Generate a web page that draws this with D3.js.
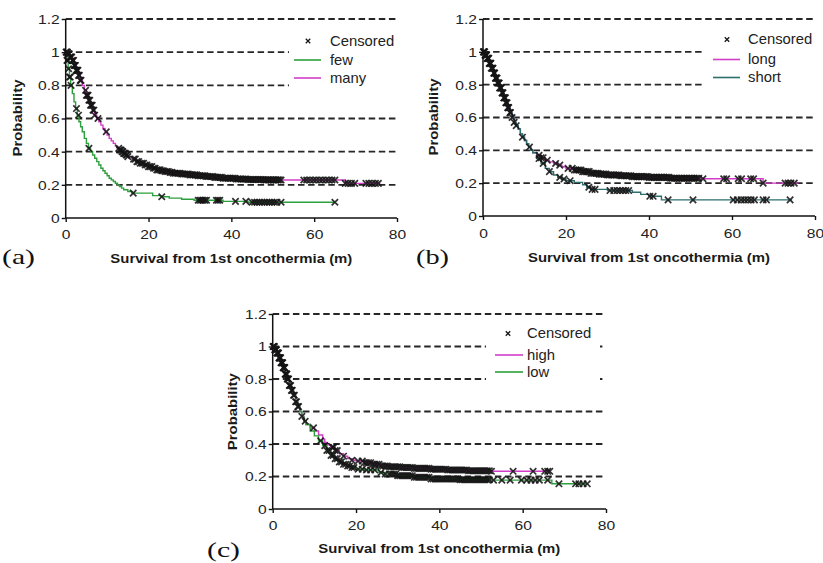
<!DOCTYPE html>
<html><head><meta charset="utf-8">
<script src="https://cdn.jsdelivr.net/npm/d3@7"></script>
<style>body{margin:0;background:#fff}svg{display:block}</style>
</head><body><svg id="chart" width="823" height="563"></svg>
<script>
// ---------- DATA ----------
const yTickValues = [0, 0.2, 0.4, 0.6, 0.8, 1, 1.2];
const yTickLabels = ["0", "0.2", "0.4", "0.6", "0.8", "1", "1.2"];
const xTickValues = [0, 20, 40, 60, 80];
const xTickLabels = ["0", "20", "40", "60", "80"];
const xTitle = "Survival from 1st oncothermia (m)";
const yTitle = "Probability";
const panelLetters = ["(a)", "(b)", "(c)"];
const censoredLabel = "Censored";
const seriesNamesA = ["few", "many"];
const seriesNamesB = ["long", "short"];
const seriesNamesC = ["high", "low"];

// Kaplan-Meier steps [time, survival]; last entry = end of follow-up
const aFew = [[0,1],[0.3,0.95],[0.6,0.9],[0.9,0.85],[1.2,0.8],[1.6,0.75],[2,0.7],[2.4,0.66],[2.8,0.62],[3.2,0.58],[3.6,0.55],[4,0.52],[4.5,0.48],[5,0.45],[5.5,0.42],[6,0.4],[6.5,0.38],[7,0.36],[7.5,0.34],[8,0.32],[8.5,0.3],[9,0.285],[9.5,0.27],[10,0.255],[10.5,0.24],[11,0.23],[11.5,0.22],[12,0.21],[12.5,0.2],[13,0.19],[13.5,0.18],[14,0.17],[15,0.16],[16,0.15],[21,0.135],[23,0.128],[25,0.12],[28,0.113],[31,0.107],[38,0.1],[44,0.095],[65,0.095]];
const aMany = [[0,1],[0.5,0.99],[1,0.97],[1.5,0.95],[2,0.92],[2.5,0.89],[3,0.86],[3.5,0.83],[4,0.8],[4.5,0.77],[5,0.74],[5.5,0.71],[6,0.68],[6.5,0.65],[7,0.62],[7.5,0.6],[8,0.58],[8.5,0.56],[9,0.54],[9.5,0.52],[10,0.5],[10.5,0.48],[11,0.465],[11.5,0.45],[12,0.435],[12.5,0.42],[13,0.41],[13.5,0.4],[14,0.39],[14.5,0.38],[15,0.37],[16,0.355],[17,0.34],[18,0.33],[19,0.32],[20,0.31],[21,0.3],[22,0.29],[23,0.285],[24,0.28],[25,0.275],[26,0.27],[28,0.265],[30,0.26],[32,0.255],[34,0.25],[36,0.245],[38,0.24],[41,0.235],[44,0.232],[48,0.23],[52,0.229],[67.5,0.209],[76,0.209]];
const aFewCens = [0.3,0.5,0.7,0.9,1.1,1.3,2.6,3.1,5.6,16.3,23.2,32,32.4,32.8,33.2,33.6,34,36.4,36.8,37.2,41,43.5,45,45.6,46.2,46.8,47.4,48,48.6,49.2,49.8,50.4,51,52,65];
const aManyCens = [0.1,0.25,0.4,0.55,0.7,0.85,1,1.15,1.3,1.45,1.6,1.75,1.9,2.05,2.2,2.35,2.5,2.65,2.8,2.95,3.1,3.3,3.5,3.7,4.8,5,5.2,5.4,5.6,5.8,6,6.2,6.4,6.6,6.8,7,7.8,9.8,12.8,13,13.2,13.4,13.6,13.8,14,14.2,14.4,14.6,14.8,15,16.4,16.8,17.2,17.6,18,18.4,18.8,19.2,19.6,20,20.4,20.8,21.2,21.6,22,22.4,22.8,23.2,23.6,24,24.4,24.8,25.2,25.6,26,26.4,26.8,27.2,27.6,28,28.4,28.8,29.2,29.6,30,30.4,30.8,31.2,31.6,32,32.4,32.8,33.2,33.6,34,34.4,34.8,35.2,35.6,36,36.4,36.8,37.2,37.6,38,38.4,38.8,39.2,39.6,40,40.4,40.8,41.2,41.6,42,42.4,42.8,43.2,43.6,44,44.4,44.8,45.2,45.6,46,46.4,46.8,47.2,47.6,48,48.4,48.8,49.2,49.6,50,50.4,50.8,51.2,51.6,52,57.5,58.2,59,59.8,60.5,61.3,62,62.8,63.5,64.3,65,67.5,68.2,69,69.8,72.5,73.2,74,74.8,75.5];

const bLong = [[0,1],[0.5,0.98],[1,0.96],[1.5,0.93],[2,0.9],[2.5,0.87],[3,0.84],[3.5,0.81],[4,0.78],[4.5,0.75],[5,0.72],[5.5,0.69],[6,0.66],[6.5,0.63],[7,0.6],[7.5,0.57],[8,0.55],[8.5,0.53],[9,0.5],[9.5,0.48],[10,0.46],[10.5,0.44],[11,0.42],[11.5,0.4],[12,0.385],[13,0.37],[14,0.355],[15,0.34],[16,0.33],[17,0.32],[18,0.31],[19,0.3],[20,0.29],[22,0.28],[24,0.27],[26,0.26],[28,0.255],[30,0.25],[33,0.245],[36,0.24],[40,0.235],[45,0.23],[53,0.227],[67.5,0.2],[76,0.2]];
const bShort = [[0,1],[0.5,0.98],[1,0.96],[1.5,0.93],[2,0.9],[2.5,0.87],[3,0.84],[3.5,0.81],[4,0.78],[4.5,0.75],[5,0.72],[5.5,0.69],[6,0.66],[6.5,0.63],[7,0.6],[7.5,0.57],[8,0.55],[8.5,0.53],[9,0.5],[9.5,0.48],[10,0.46],[10.5,0.44],[11,0.42],[11.5,0.4],[12,0.385],[13,0.35],[14,0.32],[15,0.29],[16,0.27],[17,0.25],[18,0.235],[19,0.225],[20,0.215],[22,0.205],[24,0.19],[25,0.175],[26,0.162],[30,0.155],[36,0.145],[38,0.132],[40,0.12],[43,0.098],[74.5,0.098]];
const bLongCens = [0.1,0.25,0.4,0.55,0.7,0.85,1,1.2,1.4,1.6,1.8,2,2.2,2.4,2.6,2.8,3,3.2,3.4,3.6,3.8,4,4.2,4.4,4.6,4.8,5,5.2,5.4,5.6,5.8,6,6.2,6.6,7.5,9.5,13.5,14,14.5,15.5,17.5,18.5,20.5,21.5,22,22.4,22.8,23.2,23.6,24,24.4,24.8,25.2,25.6,26,26.4,26.8,27.2,27.6,28,28.4,28.8,29.2,29.6,30,30.4,30.8,31.2,31.6,32,32.4,32.8,33.2,33.6,34,34.4,34.8,35.2,35.6,36,36.4,36.8,37.2,37.6,38,38.4,38.8,39.2,39.6,40,40.4,40.8,41.2,41.6,42,42.4,42.8,43.2,43.6,44,44.4,44.8,45.2,45.6,46,46.4,46.8,47.2,47.6,48,48.4,48.8,49.2,49.6,50,50.4,50.8,51.2,51.6,52,53,58,58.7,61.5,62.3,64.5,65.2,67.5,72.8,73.5,74.2,75];
const bShortCens = [0.2,0.5,0.8,1.1,1.5,1.9,2.3,2.7,3.1,3.5,3.9,4.3,4.7,5.1,5.5,6,6.5,7,8,11.2,13.5,14.5,16,18.5,19.5,21,25.5,26.3,27,30.6,31.5,32.3,33,33.7,34.4,35.1,40.2,41,44.6,50.6,60.3,61.3,62.2,63,63.8,64.6,65.4,67.5,68.3,74];

const cHigh = [[0,1],[0.5,0.98],[1,0.96],[1.5,0.93],[2,0.9],[2.5,0.87],[3,0.83],[3.5,0.8],[4,0.76],[4.5,0.73],[5,0.7],[5.5,0.66],[6,0.63],[6.5,0.6],[7,0.57],[7.5,0.54],[8,0.52],[9,0.5],[10,0.48],[11,0.455],[12,0.43],[12.5,0.41],[13,0.395],[14,0.38],[15,0.36],[16,0.34],[17,0.325],[18,0.31],[19,0.3],[20,0.295],[22,0.285],[24,0.275],[26,0.265],[28,0.26],[31,0.255],[34,0.25],[38,0.245],[42,0.24],[47,0.235],[52.5,0.232],[66.5,0.232]];
const cLow = [[0,1],[0.5,0.98],[1,0.96],[1.5,0.93],[2,0.9],[2.5,0.87],[3,0.83],[3.5,0.8],[4,0.76],[4.5,0.73],[5,0.7],[5.5,0.66],[6,0.63],[6.5,0.6],[7,0.57],[7.5,0.54],[8,0.52],[9,0.48],[10,0.45],[11,0.42],[12,0.39],[13,0.36],[14,0.33],[15,0.31],[16,0.29],[17,0.275],[18,0.265],[19,0.255],[20,0.245],[22,0.24],[25.5,0.225],[27,0.215],[30,0.205],[34,0.195],[38,0.185],[45,0.18],[52.5,0.178],[67,0.155],[75.5,0.155]];
const cHighCens = [0.1,0.3,0.5,0.7,0.9,1.1,1.3,1.5,1.7,1.9,2.1,2.3,2.5,2.7,2.9,3.1,3.3,3.5,3.7,4,4.3,4.7,5.2,5.7,6.2,7.8,9.8,14.3,14.6,15,15.5,17,19,20.5,21.5,22,22.5,23,23.5,24,24.5,25,25.5,26,26.5,27,27.5,28,28.5,29,29.5,30,30.5,31,31.5,32,32.5,33,33.5,34,34.5,35,35.5,36,36.5,37,37.5,38,38.5,39,39.5,40,40.5,41,41.5,42,42.5,43,43.5,44,44.5,45,45.5,46,46.5,47,47.5,48,48.5,49,49.5,50,50.5,51,51.5,52,52.5,57.7,62.5,65.3,66,66.5];
const cLowCens = [0.2,0.4,0.6,0.8,1,1.2,1.4,1.6,1.8,2,2.2,2.4,2.6,2.8,3,3.2,3.4,3.6,3.8,4.1,4.5,5,5.5,6,7,11.5,12.5,13,13.5,14,14.5,15,15.5,16,16.5,17,17.5,18,18.5,19,19.5,20.5,21.5,22.5,23.5,24.5,26,27,28,28.5,29,29.5,30,30.5,31,31.5,32,32.5,33,33.5,34,34.5,35,35.5,36,36.5,37,37.5,38,38.5,39,39.5,40,40.5,41,41.5,42,42.5,43,43.5,44,44.5,45,45.5,46,46.5,47,47.5,48,48.5,49,49.5,50,50.5,51,51.5,52,53,55,57,59.7,61,62,63,64,66,68.7,72.7,73.5,74.5,75.5];

// ---------- DRAWING ----------
const svg = d3.select("#chart");
const MAGENTA = "#d23cc8", GREEN = "#2ca03c", TEAL = "#2d6e6e";

function survAt(curve, t) {
  let s = curve[0][1];
  for (const p of curve) { if (p[0] <= t) s = p[1]; else break; }
  return s;
}

function drawPanel(cfg) {
  const x = d3.scaleLinear().domain([0, 80]).range([cfg.x0, cfg.x1]);
  const y = d3.scaleLinear().domain([0, 1.2]).range([cfg.yb, cfg.yt]);
  const g = svg.append("g");

  // dashed gridlines
  g.selectAll("line.grid").data(yTickValues.filter(v => v > 0)).enter().append("line")
    .attr("x1", cfg.x0).attr("x2", cfg.x1)
    .attr("y1", d => y(d)).attr("y2", d => y(d))
    .attr("stroke", "#262626").attr("stroke-width", 1.8).attr("stroke-dasharray", "6.5,3.6");

  // axes
  const yAxis = d3.axisLeft(y).tickValues(yTickValues).tickSize(4).tickFormat((d, i) => yTickLabels[i]);
  const xAxis = d3.axisBottom(x).tickValues(xTickValues).tickSize(4).tickFormat((d, i) => xTickLabels[i]);
  const ya = g.append("g").attr("transform", `translate(${cfg.x0},0)`).call(yAxis);
  const xa = g.append("g").attr("transform", `translate(0,${cfg.yb})`).call(xAxis);
  [ya, xa].forEach(a => {
    a.select(".domain").attr("stroke", "#111").attr("stroke-width", 1.5);
    a.selectAll(".tick line").attr("stroke", "#111").attr("stroke-width", 1.4);
    a.selectAll(".tick text").attr("font-family", "Liberation Sans, Arial, sans-serif")
      .attr("font-size", 12.5).attr("fill", "#222");
  });
  ya.select(".domain").attr("d", `M0,${cfg.yt}V${cfg.yb}`);
  xa.select(".domain").attr("d", `M${cfg.x0},0H${cfg.x1}`);
  ya.selectAll(".tick text").attr("x", null).attr("dy", null)
    .attr("transform", "translate(-6,0) scale(1.25,1)").attr("dominant-baseline", "central");
  xa.selectAll(".tick text").attr("dy", null).attr("y", 0)
    .attr("transform", `translate(0,${cfg.xLabY - cfg.yb}) scale(1.25,1)`);

  // curves
  const line = d3.line().x(d => x(d[0])).y(d => y(d[1])).curve(d3.curveStepAfter);
  cfg.series.forEach(s => {
    g.append("path").datum(s.curve).attr("d", line)
      .attr("fill", "none").attr("stroke", s.color).attr("stroke-width", 1.4);
  });
  // censored marks
  const mark = "M-3.2,-3.2L3.2,3.2M-3.2,3.2L3.2,-3.2";
  cfg.series.forEach(s => {
    g.selectAll(null).data(s.cens).enter().append("path")
      .attr("d", mark)
      .attr("transform", t => `translate(${x(t)},${y(survAt(s.curve, t))})`)
      .attr("stroke", "#141414").attr("stroke-width", 1.7).attr("fill", "none").attr("opacity", 0.88);
  });

  // legend (white background hides gridlines)
  const L = cfg.legend;
  g.append("rect").attr("x", L.bx0).attr("y", L.by0).attr("width", L.bx1 - L.bx0).attr("height", L.by1 - L.by0).attr("fill", "#fff");
  g.append("path").attr("d", mark).attr("transform", `translate(${L.mx},${L.rows[0]}) scale(0.7)`)
    .attr("stroke", "#141414").attr("stroke-width", 1.8).attr("fill", "none");
  const legTexts = [censoredLabel].concat(cfg.series.map(s => s.name));
  legTexts.forEach((t, i) => {
    g.append("text").attr("x", L.tx).attr("y", L.rows[i]).attr("dominant-baseline", "central")
      .attr("font-family", "Liberation Sans, Arial, sans-serif").attr("font-size", 14).attr("fill", "#222")
      .attr("transform", `translate(${L.tx},0) scale(1.06,1) translate(${-L.tx},0)`)
      .text(t);
  });
  cfg.series.forEach((s, i) => {
    g.append("line").attr("x1", L.lx0).attr("x2", L.lx1).attr("y1", L.rows[i + 1]).attr("y2", L.rows[i + 1])
      .attr("stroke", s.color).attr("stroke-width", 1.6);
  });

  // titles
  g.append("text").attr("x", (cfg.x0 + cfg.x1) / 2).attr("y", cfg.xTitleY).attr("text-anchor", "middle")
    .attr("font-family", "Liberation Sans, Arial, sans-serif").attr("font-weight", "bold").attr("font-size", 13.5)
    .attr("fill", "#1a1a1a").attr("textLength", 242).attr("lengthAdjust", "spacingAndGlyphs").text(xTitle);
  g.append("text").attr("transform", `translate(${cfg.yTitleX},${cfg.yTitleY}) rotate(-90)`)
    .attr("text-anchor", "middle").attr("dominant-baseline", "central")
    .attr("font-family", "Liberation Sans, Arial, sans-serif").attr("font-weight", "bold").attr("font-size", 12.5)
    .attr("fill", "#1a1a1a").attr("textLength", 77).attr("lengthAdjust", "spacingAndGlyphs").text(yTitle);
  g.append("text").attr("x", cfg.letterX).attr("y", cfg.letterY)
    .attr("font-family", "Liberation Serif, Times New Roman, serif").attr("font-size", 21).attr("fill", "#111")
    .attr("textLength", 33).attr("lengthAdjust", "spacingAndGlyphs").text(cfg.letter);
}

drawPanel({
  x0: 65.7, x1: 397, yt: 19, yb: 218, xLabY: 239, xTitleY: 263, yTitleX: 17.8, yTitleY: 118,
  letter: panelLetters[0], letterX: 2, letterY: 264,
  series: [
    { name: seriesNamesA[0], curve: aFew, cens: aFewCens, color: GREEN },
    { name: seriesNamesA[1], curve: aMany, cens: aManyCens, color: MAGENTA }
  ],
  legend: { bx0: 289, bx1: 402, by0: 30, by1: 90, mx: 308, tx: 330, lx0: 294, lx1: 321, rows: [41, 60, 78] }
});
drawPanel({
  x0: 483, x1: 815, yt: 19, yb: 216, xLabY: 238, xTitleY: 262, yTitleX: 434, yTitleY: 117,
  letter: panelLetters[1], letterX: 416, letterY: 264,
  series: [
    { name: seriesNamesB[0], curve: bLong, cens: bLongCens, color: MAGENTA },
    { name: seriesNamesB[1], curve: bShort, cens: bShortCens, color: TEAL }
  ],
  legend: { bx0: 704, bx1: 823, by0: 28, by1: 90, mx: 727, tx: 748, lx0: 713, lx1: 740, rows: [39.5, 59.5, 77.5] }
});
drawPanel({
  x0: 272.7, x1: 606, yt: 314, yb: 509, xLabY: 530, xTitleY: 553, yTitleX: 233, yTitleY: 411.7,
  letter: panelLetters[2], letterX: 207, letterY: 557,
  series: [
    { name: seriesNamesC[0], curve: cHigh, cens: cHighCens, color: MAGENTA },
    { name: seriesNamesC[1], curve: cLow, cens: cLowCens, color: GREEN }
  ],
  legend: { bx0: 486, bx1: 600, by0: 323, by1: 385, mx: 508, tx: 527, lx0: 495, lx1: 523, rows: [333.5, 355, 372] }
});
</script></body></html>
